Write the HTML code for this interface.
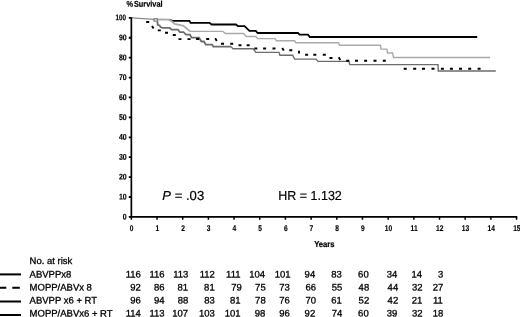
<!DOCTYPE html>
<html lang="en">
<head>
<meta charset="utf-8">
<title>Survival</title>
<style>
html,body{margin:0;padding:0;background:#fff;}
body{width:520px;height:317px;overflow:hidden;}
svg{display:block;}
text{font-family:"Liberation Sans",Arial,Helvetica,sans-serif;fill:#000;text-rendering:geometricPrecision;}
.nb{font-weight:bold;font-size:8.3px;stroke:#000;stroke-width:0.15px;}
.t{font-size:9.5px;stroke:#000;stroke-width:0.3px;}
.b{font-size:13px;stroke:#000;stroke-width:0.2px;}
</style>
</head>
<body>
<svg width="520" height="317" viewBox="0 0 520 317">
<rect width="520" height="317" fill="#fff"/>
<text transform="matrix(0.88 0.0005 0 1 126.4 6.8)" font-weight="bold" font-size="8.4" stroke="#000" stroke-width="0.2">%<tspan dx="1.1">Survival</tspan></text>
<path d="M131.8 17.9L153.9 19.4H157" fill="none" stroke="#8c8c8c" stroke-width="1.1"/>
<polyline points="169.5,19.6 172,20.8 189.5,20.8 190.5,22.8 209.6,22.8 211.5,24.5 236,24.5 238,26.1 244.5,26.1 249.5,30.8 255.8,30.8 257.7,33 298,33 299.5,34.7 308,34.7 309.8,37 477.2,37" fill="none" stroke="#000" stroke-width="1.8"/>
<polyline points="157.4,21.2 157.7,24.8 159.5,25.4 160.5,27 162.6,27.8 169.7,27.8 171.5,29.7 178,29.7 179.8,32.2 183.5,32.2 186,34.7 190,34.7 191.5,37.6 199,37.7 201.4,41.5 204,41.5 205.8,44.7 212,44.7 213.4,46.6 231,46.6" fill="none" stroke="#6c6c6c" stroke-width="1.8"/>
<polyline points="231,46.6 233,48.8 253.3,48.8 255.8,52.4 279,52.4 280,55.2 292.7,55.2 294.6,59.1 316,59.1 318,61.4 349,61.4 349.8,64.6 438,64.6 438.3,71 495.8,71" fill="none" stroke="#6c6c6c" stroke-width="1.4"/>
<path d="M146.2 22h3M152.0 26.0l1.6 2.6M157.8 30.4h3M165.0 32.8h3M172.8 35h3M178.5 39.1h3M187.5 39.1h3M196.1 39h3M206.2 39h3M215.2 38.3l1.6 2.6M221.0 43.8h3M230.2 43.8h3M238.5 45.3h3M246.7 45.3h3M254.3 48.5h3M263.1 48.5h3M272.5 48.5h3M282.2 47.9l1.6 2.6M289.3 50.3h3M299 50.7v2.8M305.1 54.7h3M313.3 54.7h3M322.8 54.7h3M329.5 58h3M338.7 57.3l1.6 2.6M346.2 60.7h3M355.0 60.7h3M364.1 60.7h3M373.5 60.7h3M382.8 60.7h3M403.7 68.8h3M413.2 68.8h3M422.0 68.8h3M431.5 68.8h3M440.9 68.8h3M449.9 68.8h3M459.0 68.8h3M468.2 68.8h3M477.6 68.8h3" fill="none" stroke="#000" stroke-width="1.9"/>
<polyline points="156.5,19.5 169.7,19.6 174.7,24 183.5,25.9 190,31.4" fill="none" stroke="#a9a9a9" stroke-width="1.8"/>
<polyline points="190,31.4 222.9,31.4 225.4,33.5 243.5,33.5 246.3,36.5 255.8,36.5 257.7,38.6 275,38.6 276.5,40.8 294.6,40.8 296,42.7 338.5,42.7 339.5,45.3 380.5,45.3 381,49.1 386.9,49.1 387.5,53 392.6,53 393.5,57.5 490,57.5" fill="none" stroke="#a9a9a9" stroke-width="1.4"/>
<rect x="154" y="18.8" width="3.3" height="2.3" fill="#fff" stroke="#666" stroke-width="1"/>
<path d="M131.35 17.2V217.8M130.65 216.9H517.3" fill="none" stroke="#000" stroke-width="1.7"/>
<path d="M128.8 216.9H131.35M128.8 197.0H131.35M128.8 177.09H131.35M128.8 157.19H131.35M128.8 137.28H131.35M128.8 117.38H131.35M128.8 97.47H131.35M128.8 77.56H131.35M128.8 57.66H131.35M128.8 37.75H131.35M128.8 17.85H131.35" stroke="#000" stroke-width="1.8" fill="none"/>
<path d="M131.35 216.9V219.8M157.03 216.9V219.8M182.71 216.9V219.8M208.39 216.9V219.8M234.07 216.9V219.8M259.75 216.9V219.8M285.43 216.9V219.8M311.11 216.9V219.8M336.79 216.9V219.8M362.47 216.9V219.8M388.15 216.9V219.8M413.83 216.9V219.8M439.51 216.9V219.8M465.19 216.9V219.8M490.87 216.9V219.8M516.55 216.9V219.8" stroke="#000" stroke-width="1.5" fill="none"/>
<text class="nb" text-anchor="end" transform="matrix(0.84 0.0005 0 1 126.7 219.4)">0</text>
<text class="nb" text-anchor="end" transform="matrix(0.84 0.0005 0 1 126.7 199.5)">10</text>
<text class="nb" text-anchor="end" transform="matrix(0.84 0.0005 0 1 126.7 179.59)">20</text>
<text class="nb" text-anchor="end" transform="matrix(0.84 0.0005 0 1 126.7 159.69)">30</text>
<text class="nb" text-anchor="end" transform="matrix(0.84 0.0005 0 1 126.7 139.78)">40</text>
<text class="nb" text-anchor="end" transform="matrix(0.84 0.0005 0 1 126.7 119.88)">50</text>
<text class="nb" text-anchor="end" transform="matrix(0.84 0.0005 0 1 126.7 99.97)">60</text>
<text class="nb" text-anchor="end" transform="matrix(0.84 0.0005 0 1 126.7 80.06)">70</text>
<text class="nb" text-anchor="end" transform="matrix(0.84 0.0005 0 1 126.7 60.16)">80</text>
<text class="nb" text-anchor="end" transform="matrix(0.84 0.0005 0 1 126.7 40.25)">90</text>
<text class="nb" text-anchor="end" transform="matrix(0.76 0.0005 0 1 126.0 20.35)">100</text>
<text class="nb" text-anchor="middle" transform="matrix(0.8 0.0005 0 1 131.65 231.0)">0</text>
<text class="nb" text-anchor="middle" transform="matrix(0.8 0.0005 0 1 157.33 231.0)">1</text>
<text class="nb" text-anchor="middle" transform="matrix(0.8 0.0005 0 1 183.01 231.0)">2</text>
<text class="nb" text-anchor="middle" transform="matrix(0.8 0.0005 0 1 208.69 231.0)">3</text>
<text class="nb" text-anchor="middle" transform="matrix(0.8 0.0005 0 1 234.37 231.0)">4</text>
<text class="nb" text-anchor="middle" transform="matrix(0.8 0.0005 0 1 260.05 231.0)">5</text>
<text class="nb" text-anchor="middle" transform="matrix(0.8 0.0005 0 1 285.73 231.0)">6</text>
<text class="nb" text-anchor="middle" transform="matrix(0.8 0.0005 0 1 311.41 231.0)">7</text>
<text class="nb" text-anchor="middle" transform="matrix(0.8 0.0005 0 1 337.09 231.0)">8</text>
<text class="nb" text-anchor="middle" transform="matrix(0.8 0.0005 0 1 362.77 231.0)">9</text>
<text class="nb" text-anchor="middle" transform="matrix(0.8 0.0005 0 1 388.45 231.0)">10</text>
<text class="nb" text-anchor="middle" transform="matrix(0.8 0.0005 0 1 414.13 231.0)">11</text>
<text class="nb" text-anchor="middle" transform="matrix(0.8 0.0005 0 1 439.81 231.0)">12</text>
<text class="nb" text-anchor="middle" transform="matrix(0.8 0.0005 0 1 465.49 231.0)">13</text>
<text class="nb" text-anchor="middle" transform="matrix(0.8 0.0005 0 1 491.17 231.0)">14</text>
<text class="nb" text-anchor="middle" transform="matrix(0.8 0.0005 0 1 516.85 231.0)">15</text>
<text transform="matrix(1 0.0005 0 1 314.2 247.3)" font-weight="bold" font-size="8.6" stroke="#000" stroke-width="0.2" textLength="20.4" lengthAdjust="spacingAndGlyphs">Years</text>
<text class="b" transform="matrix(1 0.0005 0 1 162.3 200)" textLength="41.9" lengthAdjust="spacingAndGlyphs"><tspan font-style="italic">P</tspan> = .03</text>
<text class="b" transform="matrix(1 0.0005 0 1 278.3 200)" textLength="63.5" lengthAdjust="spacingAndGlyphs">HR = 1.132</text>
<text class="t" transform="matrix(1 0.0005 0 1 29.6 264.1)">No. at risk</text>
<path d="M0 274.4H21" stroke="#000" stroke-width="2" fill="none"/>
<text class="t" transform="matrix(1 0.0005 0 1 29.6 277.4)">ABVPPx8</text>
<text class="t" text-anchor="end" transform="matrix(1 0.0005 0 1 140.8 277.4)">116</text>
<text class="t" text-anchor="end" transform="matrix(1 0.0005 0 1 164.6 277.4)">116</text>
<text class="t" text-anchor="end" transform="matrix(1 0.0005 0 1 188.3 277.4)">113</text>
<text class="t" text-anchor="end" transform="matrix(1 0.0005 0 1 214.8 277.4)">112</text>
<text class="t" text-anchor="end" transform="matrix(1 0.0005 0 1 240.5 277.4)">111</text>
<text class="t" text-anchor="end" transform="matrix(1 0.0005 0 1 265.0 277.4)">104</text>
<text class="t" text-anchor="end" transform="matrix(1 0.0005 0 1 290.6 277.4)">101</text>
<text class="t" text-anchor="end" transform="matrix(1 0.0005 0 1 315.2 277.4)">94</text>
<text class="t" text-anchor="end" transform="matrix(1 0.0005 0 1 341.9 277.4)">83</text>
<text class="t" text-anchor="end" transform="matrix(1 0.0005 0 1 368.7 277.4)">60</text>
<text class="t" text-anchor="end" transform="matrix(1 0.0005 0 1 397.3 277.4)">34</text>
<text class="t" text-anchor="end" transform="matrix(1 0.0005 0 1 422.1 277.4)">14</text>
<text class="t" text-anchor="end" transform="matrix(1 0.0005 0 1 443.4 277.4)">3</text>
<path d="M0 287.7H6.3M12.3 287.7H19.8" stroke="#000" stroke-width="2" fill="none"/>
<text class="t" transform="matrix(1 0.0005 0 1 29.6 290.5)">MOPP/ABVx 8</text>
<text class="t" text-anchor="end" transform="matrix(1 0.0005 0 1 140.8 290.5)">92</text>
<text class="t" text-anchor="end" transform="matrix(1 0.0005 0 1 164.6 290.5)">86</text>
<text class="t" text-anchor="end" transform="matrix(1 0.0005 0 1 188.1 290.5)">81</text>
<text class="t" text-anchor="end" transform="matrix(1 0.0005 0 1 214.7 290.5)">81</text>
<text class="t" text-anchor="end" transform="matrix(1 0.0005 0 1 241.9 290.5)">79</text>
<text class="t" text-anchor="end" transform="matrix(1 0.0005 0 1 265.7 290.5)">75</text>
<text class="t" text-anchor="end" transform="matrix(1 0.0005 0 1 289.9 290.5)">73</text>
<text class="t" text-anchor="end" transform="matrix(1 0.0005 0 1 316.0 290.5)">66</text>
<text class="t" text-anchor="end" transform="matrix(1 0.0005 0 1 342.4 290.5)">55</text>
<text class="t" text-anchor="end" transform="matrix(1 0.0005 0 1 369.2 290.5)">48</text>
<text class="t" text-anchor="end" transform="matrix(1 0.0005 0 1 398.2 290.5)">44</text>
<text class="t" text-anchor="end" transform="matrix(1 0.0005 0 1 422.6 290.5)">32</text>
<text class="t" text-anchor="end" transform="matrix(1 0.0005 0 1 443.4 290.5)">27</text>
<path d="M0 301.5H21" stroke="#000" stroke-width="2" fill="none"/>
<text class="t" transform="matrix(1 0.0005 0 1 29.6 303.55)">ABVPP x6 + RT</text>
<text class="t" text-anchor="end" transform="matrix(1 0.0005 0 1 140.8 303.55)">96</text>
<text class="t" text-anchor="end" transform="matrix(1 0.0005 0 1 164.6 303.55)">94</text>
<text class="t" text-anchor="end" transform="matrix(1 0.0005 0 1 188.3 303.55)">88</text>
<text class="t" text-anchor="end" transform="matrix(1 0.0005 0 1 214.9 303.55)">83</text>
<text class="t" text-anchor="end" transform="matrix(1 0.0005 0 1 240.5 303.55)">81</text>
<text class="t" text-anchor="end" transform="matrix(1 0.0005 0 1 265.7 303.55)">78</text>
<text class="t" text-anchor="end" transform="matrix(1 0.0005 0 1 289.9 303.55)">76</text>
<text class="t" text-anchor="end" transform="matrix(1 0.0005 0 1 316.0 303.55)">70</text>
<text class="t" text-anchor="end" transform="matrix(1 0.0005 0 1 341.9 303.55)">61</text>
<text class="t" text-anchor="end" transform="matrix(1 0.0005 0 1 369.2 303.55)">52</text>
<text class="t" text-anchor="end" transform="matrix(1 0.0005 0 1 398.2 303.55)">42</text>
<text class="t" text-anchor="end" transform="matrix(1 0.0005 0 1 422.4 303.55)">21</text>
<text class="t" text-anchor="end" transform="matrix(1 0.0005 0 1 442.9 303.55)">11</text>
<path d="M0 315.0H21" stroke="#000" stroke-width="2" fill="none"/>
<text class="t" transform="matrix(1 0.0005 0 1 29.6 316.6)">MOPP/ABVx6 + RT</text>
<text class="t" text-anchor="end" transform="matrix(1 0.0005 0 1 140.8 316.6)">114</text>
<text class="t" text-anchor="end" transform="matrix(1 0.0005 0 1 164.6 316.6)">113</text>
<text class="t" text-anchor="end" transform="matrix(1 0.0005 0 1 188.1 316.6)">107</text>
<text class="t" text-anchor="end" transform="matrix(1 0.0005 0 1 214.9 316.6)">103</text>
<text class="t" text-anchor="end" transform="matrix(1 0.0005 0 1 240.5 316.6)">101</text>
<text class="t" text-anchor="end" transform="matrix(1 0.0005 0 1 265.4 316.6)">98</text>
<text class="t" text-anchor="end" transform="matrix(1 0.0005 0 1 289.9 316.6)">96</text>
<text class="t" text-anchor="end" transform="matrix(1 0.0005 0 1 315.2 316.6)">92</text>
<text class="t" text-anchor="end" transform="matrix(1 0.0005 0 1 342.4 316.6)">74</text>
<text class="t" text-anchor="end" transform="matrix(1 0.0005 0 1 368.7 316.6)">60</text>
<text class="t" text-anchor="end" transform="matrix(1 0.0005 0 1 397.3 316.6)">39</text>
<text class="t" text-anchor="end" transform="matrix(1 0.0005 0 1 422.6 316.6)">32</text>
<text class="t" text-anchor="end" transform="matrix(1 0.0005 0 1 443.4 316.6)">18</text>
</svg>
</body>
</html>
